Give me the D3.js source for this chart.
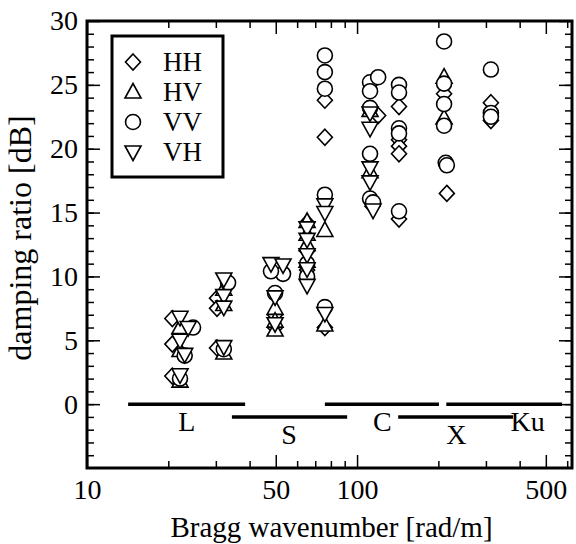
<!DOCTYPE html>
<html>
<head>
<meta charset="utf-8">
<script src="https://cdn.jsdelivr.net/npm/d3@7"></script>
<style>
    body { margin: 0; background: #fff; }
    svg { display: block; font-family: 'Liberation Serif', 'Times New Roman', serif; }
</style>
</head>
<body>
<svg id="chart" width="576" height="544"></svg>
<script>
// [bragg wavenumber rad/m, damping ratio dB] per polarization
var hh = [
    [20.7, 6.7], [20.7, 4.7], [20.7, 2.2],
    [30.3, 8.3], [30.3, 7.5], [30.3, 4.4],
    [49.7, 7.0], [49.7, 6.0],
    [65.3, 14.2], [65.3, 12.0], [65.3, 10.5],
    [76, 23.8], [76, 20.9], [76, 6.0],
    [119.7, 22.6], [114, 15.5],
    [143, 23.3], [143, 20.7], [143, 20.2], [143, 19.6], [143, 14.5],
    [210, 24.3], [210, 22.0], [215, 16.5],
    [313, 23.6], [313, 22.2]
]
var hv = [
    [22.1, 1.8], [22.1, 4.2], [22.1, 6.0],
    [32.1, 9.0], [32.1, 7.8], [32.1, 4.0],
    [49.7, 7.5], [49.7, 6.5], [49.7, 5.8],
    [65.3, 14.3], [65.3, 13.3], [65.3, 12.5], [65.3, 11.2],
    [76, 13.6], [76, 6.2],
    [111.7, 23.0], [111.7, 18.2],
    [210, 25.6], [210, 22.4]
]
var vv = [
    [24.7, 6.0], [23.0, 3.8], [22.1, 2.0],
    [33.3, 9.5], [32.1, 4.3],
    [53.2, 10.2], [48.0, 10.4], [49.7, 8.7],
    [65.3, 10.0], [65.3, 11.0],
    [76, 27.3], [76, 26.0], [76, 24.7], [76, 16.4], [76, 7.6],
    [111.7, 25.2], [119.7, 25.6], [111.7, 24.5], [111.7, 23.2], [111.7, 19.6], [111.7, 16.1], [114.6, 15.8],
    [143, 25.0], [143, 24.4], [143, 21.6], [143, 21.2], [143, 15.1],
    [210, 28.4], [210, 25.1], [210, 23.5], [210, 21.8], [213, 18.9], [215, 18.7],
    [313, 26.2], [313, 22.8], [313, 22.5]
]
var vh = [
    [22.1, 6.8], [23.7, 6.0], [22.1, 5.0], [23.0, 3.9], [22.1, 2.3],
    [32.1, 9.8], [32.1, 8.5], [32.1, 7.6], [32.1, 4.5],
    [48.0, 11.0], [53.2, 10.9], [49.7, 8.4], [49.7, 6.3],
    [65.3, 13.8], [65.3, 12.9], [65.3, 11.7], [65.3, 10.6], [65.3, 9.3],
    [76, 15.6], [76, 15.0], [76, 7.1],
    [111.7, 22.8], [111.7, 21.6], [111.7, 18.5], [111.7, 17.4], [114.6, 15.2]
]

var seriesNames = ['HH', 'HV', 'VV', 'VH']
var seriesShapes = ['diamond', 'up', 'circle', 'down']
var seriesData = [hh, hv, vv, vh]

// radar bands drawn along the bottom
var bandNames = ['L', 'S', 'C', 'X', 'Ku']
var bandStart = [14.2, 34.4, 76, 142, 214]
var bandEnd = [38.5, 91.9, 201, 378, 574]
var bandLevel = [0, -1, 0, -1, 0]
var bandLabelK = [23.4, 56, 124, 233, 428]

var xMajor = [10, 50, 100, 500]
var xMinor = [20, 30, 40, 60, 70, 80, 90, 200, 300, 400, 600]
var yMajor = [0, 5, 10, 15, 20, 25, 30]
var yMinor = d3.range(-4, 30)

var svg = d3.select('#chart')
var pLeft = 87, pRight = 572, pTop = 21, pBottom = 468

var x = d3.scaleLog().domain([10, 625]).range([pLeft, pRight])
var y = d3.scaleLinear().domain([-5, 30]).range([pBottom, pTop])

function shape(kind) {
    var p = d3.path()
    if (kind === 'circle') {
        p.moveTo(7.5, 0)
        p.arc(0, 0, 7.5, 0, 2 * Math.PI)
    } else if (kind === 'diamond') {
        p.moveTo(0, -8); p.lineTo(7.5, 0); p.lineTo(0, 8); p.lineTo(-7.5, 0); p.closePath()
    } else if (kind === 'up') {
        p.moveTo(0, -8.5); p.lineTo(8, 6); p.lineTo(-8, 6); p.closePath()
    } else {
        p.moveTo(0, 8.5); p.lineTo(8, -6); p.lineTo(-8, -6); p.closePath()
    }
    return p.toString()
}

// ticks, all pointing inward on every side
function tickAxis(axis, values, size, t) {
    svg.append('g')
        .attr('transform', t)
        .call(axis.tickValues(values).tickSize(size).tickFormat(''))
        .call(function(g) { g.select('.domain').remove() })
        .selectAll('line').attr('stroke', '#000').attr('stroke-width', 1.5)
}
tickAxis(d3.axisBottom(x), xMajor, -13, 'translate(0,' + pBottom + ')')
tickAxis(d3.axisBottom(x), xMinor, -7, 'translate(0,' + pBottom + ')')
tickAxis(d3.axisTop(x), xMajor, -13, 'translate(0,' + pTop + ')')
tickAxis(d3.axisTop(x), xMinor, -7, 'translate(0,' + pTop + ')')
tickAxis(d3.axisLeft(y), yMajor, -13, 'translate(' + pLeft + ',0)')
tickAxis(d3.axisLeft(y), yMinor, -7, 'translate(' + pLeft + ',0)')
tickAxis(d3.axisRight(y), yMajor, -13, 'translate(' + pRight + ',0)')
tickAxis(d3.axisRight(y), yMinor, -7, 'translate(' + pRight + ',0)')

// tick labels
svg.append('g')
    .attr('transform', 'translate(0,' + pBottom + ')')
    .call(d3.axisBottom(x).tickValues(xMajor).tickSize(0).tickPadding(11).tickFormat(d3.format('d')))
    .call(function(g) { g.select('.domain').remove() })
    .selectAll('text').attr('font-size', 28).attr('font-family', 'Liberation Serif').attr('fill', '#000')

svg.append('g')
    .attr('transform', 'translate(' + pLeft + ',0)')
    .call(d3.axisLeft(y).tickValues(yMajor).tickSize(0).tickPadding(9).tickFormat(d3.format('d')))
    .call(function(g) { g.select('.domain').remove() })
    .selectAll('text').attr('font-size', 28).attr('font-family', 'Liberation Serif').attr('fill', '#000')

svg.append('rect')
    .attr('x', pLeft).attr('y', pTop)
    .attr('width', pRight - pLeft).attr('height', pBottom - pTop)
    .attr('fill', 'none').attr('stroke', '#000').attr('stroke-width', 3)

// band lines and names
svg.selectAll('.band')
    .data(bandNames)
    .enter().append('line')
    .attr('class', 'band')
    .attr('x1', function(d, i) { return x(bandStart[i]) })
    .attr('x2', function(d, i) { return x(bandEnd[i]) })
    .attr('y1', function(d, i) { return y(bandLevel[i]) })
    .attr('y2', function(d, i) { return y(bandLevel[i]) })
    .attr('stroke', '#000').attr('stroke-width', 3.5)

svg.selectAll('.bandLabel')
    .data(bandNames)
    .enter().append('text')
    .attr('class', 'bandLabel')
    .attr('x', function(d, i) { return x(bandLabelK[i]) })
    .attr('y', function(d, i) { return y(bandLevel[i]) + 27 })
    .attr('text-anchor', 'middle')
    .attr('font-size', 28)
    .text(function(d) { return d })

// markers
seriesData.forEach(function(data, si) {
    svg.append('g').selectAll('path')
        .data(data)
        .enter().append('path')
        .attr('d', shape(seriesShapes[si]))
        .attr('transform', function(d) { return 'translate(' + x(d[0]) + ',' + y(d[1]) + ')' })
        .attr('fill', '#fff')
        .attr('stroke', '#000')
        .attr('stroke-width', 1.6)
})

// legend
var legend = svg.append('g')
legend.append('rect')
    .attr('x', 112).attr('y', 36).attr('width', 111).attr('height', 141)
    .attr('fill', '#fff').attr('stroke', '#000').attr('stroke-width', 3)

var rows = legend.selectAll('.row')
    .data(seriesNames)
    .enter().append('g')
    .attr('class', 'row')
    .attr('transform', function(d, i) { return 'translate(133,' + (62 + i * 30) + ')' })

rows.append('path')
    .attr('d', function(d, i) { return shape(seriesShapes[i]) })
    .attr('fill', '#fff').attr('stroke', '#000').attr('stroke-width', 1.6)

rows.append('text')
    .attr('x', 30).attr('y', 9)
    .attr('font-size', 27)
    .text(function(d) { return d })

// axis titles
svg.append('text')
    .attr('x', (pLeft + pRight) / 2 + 2).attr('y', 537)
    .attr('text-anchor', 'middle')
    .attr('font-size', 29)
    .text('Bragg wavenumber [rad/m]')

svg.append('text')
    .attr('transform', 'translate(31,238) rotate(-90)')
    .attr('text-anchor', 'middle')
    .attr('font-size', 32)
    .text('damping ratio [dB]')
</script>
</body>
</html>
